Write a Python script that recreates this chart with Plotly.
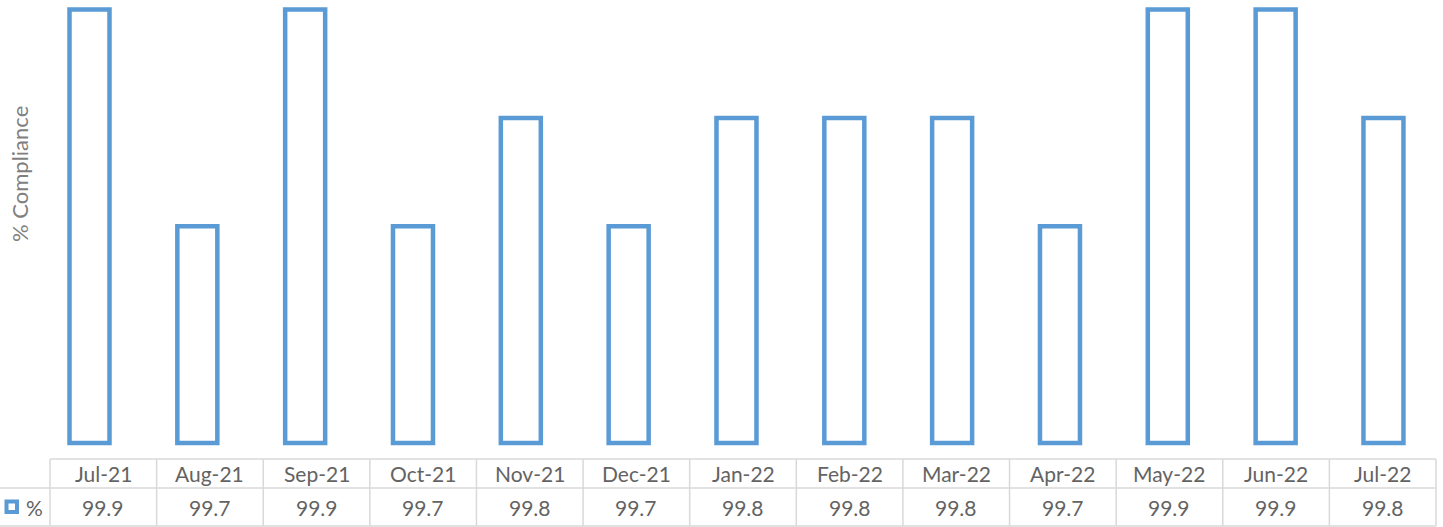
import plotly.graph_objects as go

categories = ["Jul-21", "Aug-21", "Sep-21", "Oct-21", "Nov-21", "Dec-21", "Jan-22",
              "Feb-22", "Mar-22", "Apr-22", "May-22", "Jun-22", "Jul-22"]
values = [99.9, 99.7, 99.9, 99.7, 99.8, 99.7, 99.8, 99.8, 99.8, 99.7, 99.9, 99.9, 99.8]
series_name = "%"
y_title = "% Compliance"
base_value = 99.5

W, H = 1443, 527
BLUE = "#5B9BD5"
GRID = "#D9D9D9"
TXT = "#636363"
FONT = "Lato"

# plot geometry (pixels)
plot_bottom = 446
px_per_unit = 433.5 / 0.4
y_hi = 99.9 + 9.5 / px_per_unit
y_lo = base_value - (plot_bottom - 443) / px_per_unit
cat_step = 107.83
x0 = -89.5 / cat_step
x1 = x0 + W / cat_step

fig = go.Figure()
fig.add_trace(go.Bar(
    x=list(range(len(categories))),
    y=[v - base_value for v in values],
    base=base_value,
    width=0.371,
    marker=dict(color="white", line=dict(color=BLUE, width=4.5)),
    name=series_name,
    showlegend=False,
    hoverinfo="skip",
))

# table geometry
tbl_left, tbl_right = 50, 1436
row_top, row_mid, row_bot = 459, 488, 526
n = len(categories)
col_w = (tbl_right - tbl_left) / n

def px(x):
    return x / W

def py(y):
    return 1 - y / H

shapes = []
line = dict(color=GRID, width=1.5)
shapes.append(dict(type="line", xref="paper", yref="paper", x0=px(tbl_left), x1=px(tbl_right),
                   y0=py(row_top), y1=py(row_top), line=line))
shapes.append(dict(type="line", xref="paper", yref="paper", x0=0, x1=px(tbl_right),
                   y0=py(row_mid), y1=py(row_mid), line=line))
shapes.append(dict(type="line", xref="paper", yref="paper", x0=0, x1=px(tbl_right),
                   y0=py(row_bot), y1=py(row_bot), line=line))
for i in range(n + 1):
    xx = tbl_left + i * col_w
    shapes.append(dict(type="line", xref="paper", yref="paper", x0=px(xx), x1=px(xx),
                       y0=py(row_top), y1=py(row_bot), line=line))
# legend key
shapes.append(dict(type="rect", xref="paper", yref="paper", x0=px(6.5), x1=px(17),
                   y0=py(501.5), y1=py(512), line=dict(color=BLUE, width=4), fillcolor="white"))

annotations = []
for i, (c, v) in enumerate(zip(categories, values)):
    cx = tbl_left + (i + 0.5) * col_w
    annotations.append(dict(x=px(cx), y=py((row_top + row_mid) / 2), xref="paper", yref="paper",
                            text=c, showarrow=False, xanchor="center", yanchor="middle",
                            font=dict(family=FONT, size=21, color=TXT)))
    annotations.append(dict(x=px(cx), y=py((row_mid + row_bot) / 2), xref="paper", yref="paper",
                            text=f"{v:.1f}", showarrow=False, xanchor="center", yanchor="middle",
                            font=dict(family=FONT, size=21, color=TXT)))
annotations.append(dict(x=px(34), y=py(507), xref="paper", yref="paper", text=series_name,
                        showarrow=False, xanchor="center", yanchor="middle",
                        font=dict(family=FONT, size=21, color=TXT)))
annotations.append(dict(x=px(19), y=py(174), xref="paper", yref="paper", text=y_title,
                        textangle=-90, showarrow=False, xanchor="center", yanchor="middle",
                        font=dict(family=FONT, size=22, color="#7F7F7F")))

fig.update_layout(
    width=W, height=H,
    margin=dict(l=0, r=0, t=0, b=0),
    paper_bgcolor="white", plot_bgcolor="white",
    xaxis=dict(range=[x0, x1], showgrid=False, zeroline=False, showticklabels=False,
               showline=False, ticks="", domain=[0, 1]),
    yaxis=dict(range=[y_lo, y_hi], showgrid=False, zeroline=False, showticklabels=False,
               showline=False, ticks="", domain=[1 - plot_bottom / H, 1]),
    shapes=shapes,
    annotations=annotations,
)

fig.write_html("out.html", config={"displayModeBar": False},
               post_script="document.body.style.margin='0';document.body.style.overflow='hidden';")
